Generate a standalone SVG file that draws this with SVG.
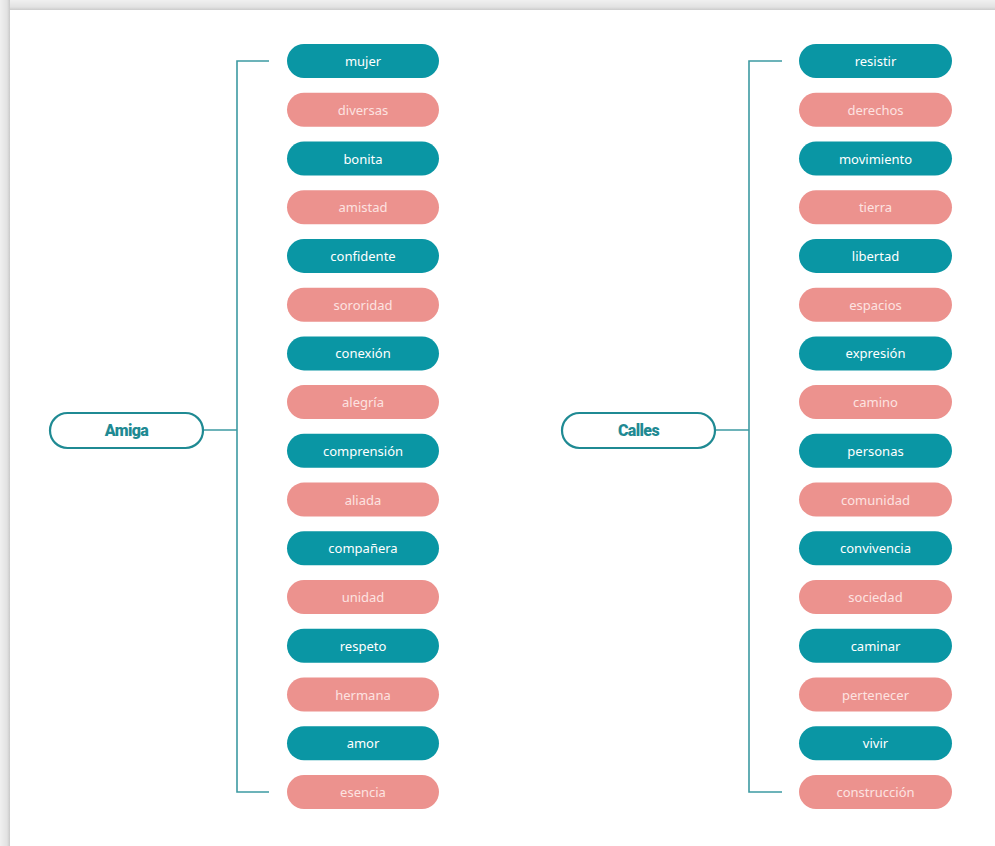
<svg xmlns="http://www.w3.org/2000/svg" width="995" height="846" viewBox="0 0 995 846">
<defs>
<linearGradient id="gl" x1="0" y1="0" x2="1" y2="0"><stop offset="0" stop-color="#f0f0f0"/><stop offset="0.7" stop-color="#e2e2e2"/><stop offset="1" stop-color="#c9c9c9"/></linearGradient>
<linearGradient id="gt" x1="0" y1="0" x2="0" y2="1"><stop offset="0" stop-color="#f0f0f0"/><stop offset="0.7" stop-color="#e2e2e2"/><stop offset="1" stop-color="#cbcbcb"/></linearGradient>
</defs>
<style>
.t{fill:#0a96a4}
.p{fill:#ec928e}
.tt{fill:#ffffff;font-family:"Noto Sans",sans-serif;font-size:13px;text-anchor:middle;dominant-baseline:central}
.pt{fill:#fde3e1;font-family:"Noto Sans",sans-serif;font-size:13px;text-anchor:middle;dominant-baseline:central}
.hub{fill:#ffffff;stroke:#1f8a93;stroke-width:2.2}
.ht{fill:#1f8a93;font-family:Roboto,"Liberation Sans",sans-serif;font-weight:900;font-size:16px;text-anchor:middle;dominant-baseline:central;letter-spacing:-0.6px}
.c{fill:none;stroke:#3d9aa2;stroke-width:1.6}
</style>
<rect width="995" height="846" fill="#ffffff"/>
<rect x="0" y="0" width="995" height="10" fill="url(#gt)"/>
<rect x="0" y="0" width="10" height="846" fill="url(#gl)"/>
<rect x="10" y="10" width="985" height="836" fill="#ffffff"/>

<g id="connectors">
<path class="c" d="M269,61 H237 V792 H269"/>
<path class="c" d="M203,430 H237"/>
<path class="c" d="M782,61 H749 V792 H782"/>
<path class="c" d="M715,430 H749"/>
</g>

<g id="amiga"><rect class="hub" x="50" y="413" width="153" height="35" rx="17.5"/><text class="ht" x="126.5" y="430.5">Amiga</text></g>
<g id="calles"><rect class="hub" x="562" y="413" width="153" height="35" rx="17.5"/><text class="ht" x="638.5" y="430.5">Calles</text></g>

<g id="left-items">
<g id="l-mujer"><rect class="t" x="287" y="44" width="152" height="34" rx="17"/><text class="tt" x="363" y="61">mujer</text></g>
<g id="l-diversas"><rect class="p" x="287" y="92.7" width="152" height="34" rx="17"/><text class="pt" x="363" y="109.7">diversas</text></g>
<g id="l-bonita"><rect class="t" x="287" y="141.5" width="152" height="34" rx="17"/><text class="tt" x="363" y="158.5">bonita</text></g>
<g id="l-amistad"><rect class="p" x="287" y="190.2" width="152" height="34" rx="17"/><text class="pt" x="363" y="207.2">amistad</text></g>
<g id="l-confidente"><rect class="t" x="287" y="238.9" width="152" height="34" rx="17"/><text class="tt" x="363" y="255.9">confidente</text></g>
<g id="l-sororidad"><rect class="p" x="287" y="287.7" width="152" height="34" rx="17"/><text class="pt" x="363" y="304.7">sororidad</text></g>
<g id="l-conexion"><rect class="t" x="287" y="336.4" width="152" height="34" rx="17"/><text class="tt" x="363" y="353.4">conexión</text></g>
<g id="l-alegria"><rect class="p" x="287" y="385.1" width="152" height="34" rx="17"/><text class="pt" x="363" y="402.1">alegría</text></g>
<g id="l-comprension"><rect class="t" x="287" y="433.8" width="152" height="34" rx="17"/><text class="tt" x="363" y="450.8">comprensión</text></g>
<g id="l-aliada"><rect class="p" x="287" y="482.6" width="152" height="34" rx="17"/><text class="pt" x="363" y="499.6">aliada</text></g>
<g id="l-companera"><rect class="t" x="287" y="531.3" width="152" height="34" rx="17"/><text class="tt" x="363" y="548.3">compañera</text></g>
<g id="l-unidad"><rect class="p" x="287" y="580" width="152" height="34" rx="17"/><text class="pt" x="363" y="597">unidad</text></g>
<g id="l-respeto"><rect class="t" x="287" y="628.8" width="152" height="34" rx="17"/><text class="tt" x="363" y="645.8">respeto</text></g>
<g id="l-hermana"><rect class="p" x="287" y="677.5" width="152" height="34" rx="17"/><text class="pt" x="363" y="694.5">hermana</text></g>
<g id="l-amor"><rect class="t" x="287" y="726.2" width="152" height="34" rx="17"/><text class="tt" x="363" y="743.2">amor</text></g>
<g id="l-esencia"><rect class="p" x="287" y="775" width="152" height="34" rx="17"/><text class="pt" x="363" y="792">esencia</text></g>
</g>

<g id="right-items">
<g id="r-resistir"><rect class="t" x="799" y="44" width="153" height="34" rx="17"/><text class="tt" x="875.5" y="61">resistir</text></g>
<g id="r-derechos"><rect class="p" x="799" y="92.7" width="153" height="34" rx="17"/><text class="pt" x="875.5" y="109.7">derechos</text></g>
<g id="r-movimiento"><rect class="t" x="799" y="141.5" width="153" height="34" rx="17"/><text class="tt" x="875.5" y="158.5">movimiento</text></g>
<g id="r-tierra"><rect class="p" x="799" y="190.2" width="153" height="34" rx="17"/><text class="pt" x="875.5" y="207.2">tierra</text></g>
<g id="r-libertad"><rect class="t" x="799" y="238.9" width="153" height="34" rx="17"/><text class="tt" x="875.5" y="255.9">libertad</text></g>
<g id="r-espacios"><rect class="p" x="799" y="287.7" width="153" height="34" rx="17"/><text class="pt" x="875.5" y="304.7">espacios</text></g>
<g id="r-expresion"><rect class="t" x="799" y="336.4" width="153" height="34" rx="17"/><text class="tt" x="875.5" y="353.4">expresión</text></g>
<g id="r-camino"><rect class="p" x="799" y="385.1" width="153" height="34" rx="17"/><text class="pt" x="875.5" y="402.1">camino</text></g>
<g id="r-personas"><rect class="t" x="799" y="433.8" width="153" height="34" rx="17"/><text class="tt" x="875.5" y="450.8">personas</text></g>
<g id="r-comunidad"><rect class="p" x="799" y="482.6" width="153" height="34" rx="17"/><text class="pt" x="875.5" y="499.6">comunidad</text></g>
<g id="r-convivencia"><rect class="t" x="799" y="531.3" width="153" height="34" rx="17"/><text class="tt" x="875.5" y="548.3">convivencia</text></g>
<g id="r-sociedad"><rect class="p" x="799" y="580" width="153" height="34" rx="17"/><text class="pt" x="875.5" y="597">sociedad</text></g>
<g id="r-caminar"><rect class="t" x="799" y="628.8" width="153" height="34" rx="17"/><text class="tt" x="875.5" y="645.8">caminar</text></g>
<g id="r-pertenecer"><rect class="p" x="799" y="677.5" width="153" height="34" rx="17"/><text class="pt" x="875.5" y="694.5">pertenecer</text></g>
<g id="r-vivir"><rect class="t" x="799" y="726.2" width="153" height="34" rx="17"/><text class="tt" x="875.5" y="743.2">vivir</text></g>
<g id="r-construccion"><rect class="p" x="799" y="775" width="153" height="34" rx="17"/><text class="pt" x="875.5" y="792">construcción</text></g>
</g>
</svg>
